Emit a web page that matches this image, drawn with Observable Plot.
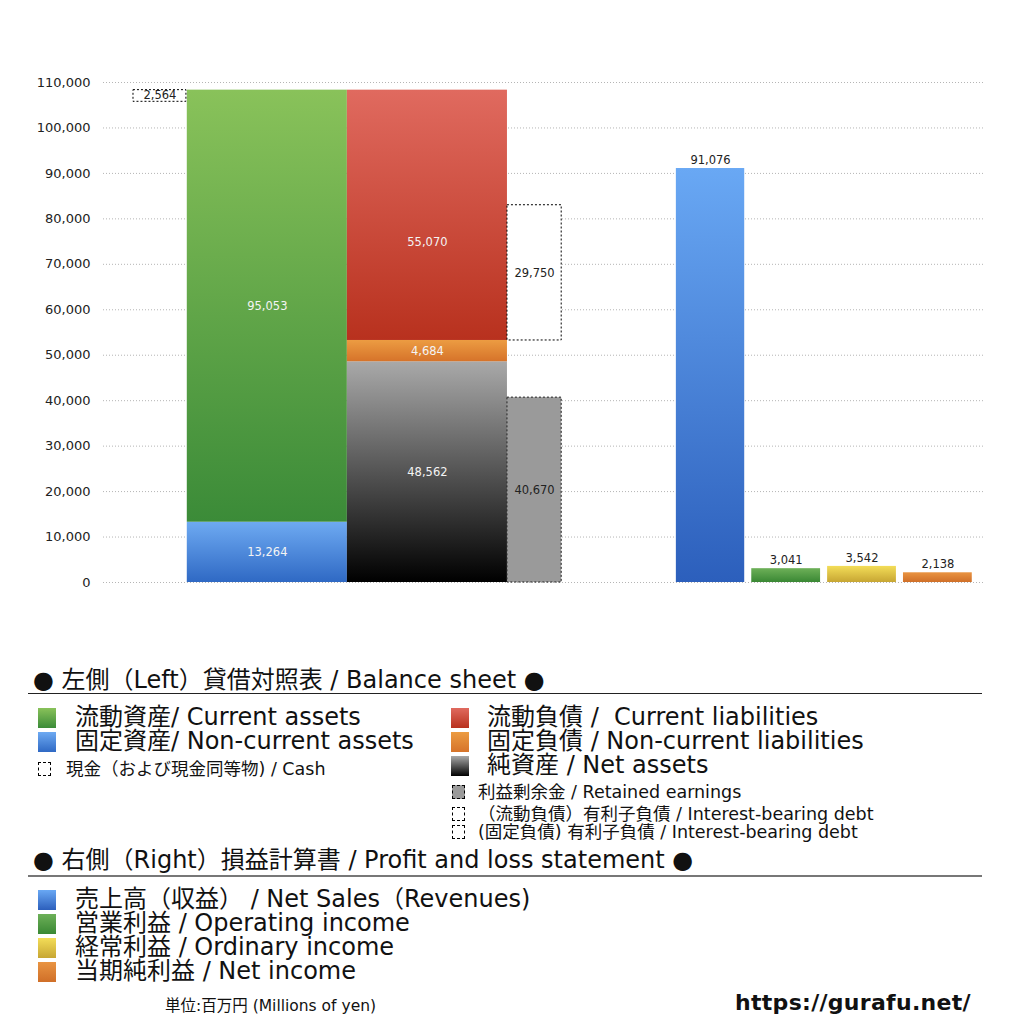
<!DOCTYPE html>
<html>
<head>
<meta charset="utf-8">
<script src="https://cdn.jsdelivr.net/npm/d3@7"></script>
<script src="https://cdn.jsdelivr.net/npm/@observablehq/plot@0.6"></script>
<style>
  html, body { margin: 0; padding: 0; background: #fff; }
  #wrap { position: relative; width: 1024px; height: 1024px; font-family: "DejaVu Sans", "Noto Sans CJK JP", sans-serif; color: #111; }
  #chart { position: absolute; left: 0; top: 0; }
  .abs { position: absolute; white-space: nowrap; }
  .big { font-size: 24px; line-height: 24px; }
  .small { font-size: 17.5px; line-height: 18px; }
  .sw { position: absolute; width: 18px; height: 20px; }
  .swd { position: absolute; width: 13px; height: 14px; border: 1px dashed #000; box-sizing: border-box; }
  .rule { position: absolute; left: 28px; width: 954px; }
</style>
</head>
<body>
<div id="wrap">
  <div id="chart"></div>
</div>
<script>
// ---------------- DATA ----------------
const yTicks = [0, 10000, 20000, 30000, 40000, 50000, 60000, 70000, 80000, 90000, 100000, 110000];

// Left: balance sheet
const assetCategories = ["固定資産", "流動資産"];          // bottom -> top
const assetValues = [13264, 95053];
const liabilityCategories = ["純資産", "固定負債", "流動負債"]; // bottom -> top
const liabilityValues = [48562, 4684, 55070];
const cashValue = 2564;
const interestDebtCurrentValue = 29750;
const retainedEarningsValue = 40670;

// Right: profit & loss
const plCategories = ["売上高", "営業利益", "経常利益", "当期純利益"];
const plValues = [91076, 3041, 3542, 2138];

// ---------------- LAYOUT / STYLE ----------------
// x slots on a 0..100 linear scale
const slot = {
  cash: [3.4, 9.4],
  assets: [9.5, 27.65],
  liab: [27.65, 45.8],
  debt: [45.8, 51.95],
  pl: [[64.95, 72.7], [73.5, 81.3], [82.1, 89.9], [90.7, 98.5]]
};
const grad = {
  "固定資産": ["#6eaaf2", "#2f69c4"],
  "流動資産": ["#89c25a", "#3b8b38"],
  "純資産": ["#a9a9a9", "#000000"],
  "固定負債": ["#ec9c42", "#d6732a"],
  "流動負債": ["#e06a5f", "#b8311e"],
  "売上高": ["#69a8f4", "#2c5fbc"],
  "営業利益": ["#6db058", "#3a8834"],
  "経常利益": ["#f3dd58", "#c7a633"],
  "当期純利益": ["#e99442", "#d06f28"]
};
const gid = (k) => "g" + Object.keys(grad).indexOf(k);

// ---------------- BUILD ROWS ----------------
function stackRows(cats, vals, xr) {
  const cum = d3.cumsum(vals);
  return cats.map((c, i) => ({cat: c, value: vals[i], x1: xr[0], x2: xr[1], y1: cum[i] - vals[i], y2: cum[i]}));
}
const assetRows = stackRows(assetCategories, assetValues, slot.assets);
const liabRows = stackRows(liabilityCategories, liabilityValues, slot.liab);
const totalAssets = d3.sum(assetValues);
const cashRow = [{value: cashValue, x1: slot.cash[0], x2: slot.cash[1], y1: totalAssets - cashValue, y2: totalAssets}];
const debtBase = liabilityValues[0] + liabilityValues[1];
const debtRow = [{value: interestDebtCurrentValue, x1: slot.debt[0], x2: slot.debt[1], y1: debtBase, y2: debtBase + interestDebtCurrentValue}];
const retainedRow = [{value: retainedEarningsValue, x1: slot.debt[0], x2: slot.debt[1], y1: 0, y2: retainedEarningsValue}];
const plRows = plCategories.map((c, i) => ({cat: c, value: plValues[i], x1: slot.pl[i][0], x2: slot.pl[i][1], y1: 0, y2: plValues[i]}));

const fmt = d3.format(",");
const fontFamily = '"DejaVu Sans", "Noto Sans CJK JP", sans-serif';

const defs = () => {
  const d = d3.create("svg:defs");
  for (const [k, [c0, c1]] of Object.entries(grad)) {
    const lg = d.append("linearGradient").attr("id", gid(k)).attr("x1", 0).attr("y1", 0).attr("x2", 0).attr("y2", 1);
    lg.append("stop").attr("offset", "0%").attr("stop-color", c0);
    lg.append("stop").attr("offset", "100%").attr("stop-color", c1);
  }
  return d.node();
};

const mid = (d) => (d.y1 + d.y2) / 2;
const xm = (d) => (d.x1 + d.x2) / 2;
const lab = 11.5;

const chart = Plot.plot({
  width: 1024,
  height: 610,
  marginTop: 82,
  marginBottom: 28,
  marginLeft: 103,
  marginRight: 39,
  style: {fontFamily, fontSize: "12px", color: "#222", background: "transparent"},
  x: {type: "linear", domain: [0, 100], axis: null},
  y: {domain: [0, 110000], axis: null},
  marks: [
    defs,
    Plot.ruleY(yTicks, {stroke: "#b5b5b5", strokeDasharray: "1,2", strokeWidth: 1}),
    Plot.axisY({ticks: yTicks, tickFormat: fmt, tickSize: 0, tickPadding: 13, fontSize: 13, label: null}),
    // balance sheet
    Plot.rect(assetRows, {x1: "x1", x2: "x2", y1: "y1", y2: "y2", fill: (d) => `url(#${gid(d.cat)})`}),
    Plot.rect(liabRows, {x1: "x1", x2: "x2", y1: "y1", y2: "y2", fill: (d) => `url(#${gid(d.cat)})`}),
    Plot.rect(cashRow, {x1: "x1", x2: "x2", y1: "y1", y2: "y2", fill: "white", stroke: "black", strokeDasharray: "2,2", strokeWidth: 1}),
    Plot.rect(debtRow, {x1: "x1", x2: "x2", y1: "y1", y2: "y2", fill: "white", stroke: "black", strokeDasharray: "2,2", strokeWidth: 1}),
    Plot.rect(retainedRow, {x1: "x1", x2: "x2", y1: "y1", y2: "y2", fill: "#9a9a9a", stroke: "#222", strokeDasharray: "2,2", strokeWidth: 1}),
    // P&L
    Plot.rect(plRows, {x1: "x1", x2: "x2", y1: "y1", y2: "y2", fill: (d) => `url(#${gid(d.cat)})`}),
    // labels
    Plot.text(assetRows, {x: xm, y: mid, text: (d) => fmt(d.value), fill: "#f4f4f4", fontSize: lab}),
    Plot.text(liabRows.filter((d) => d.cat !== "流動負債"), {x: xm, y: mid, text: (d) => fmt(d.value), fill: "#f4f4f4", fontSize: lab}),
    Plot.text(liabRows.filter((d) => d.cat === "流動負債"), {x: xm, y: mid, dy: 27, text: (d) => fmt(d.value), fill: "#f4f4f4", fontSize: lab}),
    Plot.text(cashRow, {x: xm, y: mid, dy: -1, text: (d) => fmt(d.value), fill: "#222", fontSize: lab}),
    Plot.text(debtRow, {x: xm, y: mid, text: (d) => fmt(d.value), fill: "#222", fontSize: lab}),
    Plot.text(retainedRow, {x: xm, y: mid, text: (d) => fmt(d.value), fill: "#222", fontSize: lab}),
    Plot.text(plRows, {x: xm, y: "y2", dy: -8, text: (d) => fmt(d.value), fill: "#222", fontSize: lab})
  ]
});
document.getElementById("chart").appendChild(chart);

// ---------------- LEGEND (HTML) ----------------
const wrap = document.getElementById("wrap");
function add(html) { wrap.insertAdjacentHTML("beforeend", html); }
const css = (k) => `linear-gradient(to bottom, ${grad[k][0]}, ${grad[k][1]})`;

add(`<div class="abs big" style="left:33px; top:668px;">● 左側（Left）貸借対照表 / Balance sheet ●</div>`);
add(`<div class="rule" style="top:693px; border-top:1px solid #222;"></div>`);

const leftItems = [["流動資産", "流動資産/ Current assets", 705], ["固定資産", "固定資産/ Non-current assets", 729]];
for (const [k, t, top] of leftItems) {
  add(`<div class="sw" style="left:38px; top:${top + 3}px; background:${css(k)}"></div>`);
  add(`<div class="abs big" style="left:75px; top:${top}px;">${t}</div>`);
}
add(`<div class="swd" style="left:38px; top:762px;"></div>`);
add(`<div class="abs small" style="left:66px; top:760px;">現金（および現金同等物) / Cash</div>`);

const rightItems = [["流動負債", "流動負債 /&nbsp; Current liabilities", 705], ["固定負債", "固定負債 / Non-current liabilities", 729], ["純資産", "純資産 / Net assets", 753]];
for (const [k, t, top] of rightItems) {
  add(`<div class="sw" style="left:451px; top:${top + 3}px; background:${css(k)}"></div>`);
  add(`<div class="abs big" style="left:487px; top:${top}px;">${t}</div>`);
}
add(`<div class="swd" style="left:452px; top:785px; background:#9a9a9a;"></div>`);
add(`<div class="abs small" style="left:478px; top:783px;">利益剰余金 / Retained earnings</div>`);
add(`<div class="swd" style="left:452px; top:807px;"></div>`);
add(`<div class="abs small" style="left:478px; top:805px;">（流動負債）有利子負債 / Interest-bearing debt</div>`);
add(`<div class="swd" style="left:452px; top:825px;"></div>`);
add(`<div class="abs small" style="left:478px; top:823px;">(固定負債) 有利子負債 / Interest-bearing debt</div>`);

add(`<div class="abs big" style="left:33px; top:848px;">● 右側（Right）損益計算書 / Profit and loss statement ●</div>`);
add(`<div class="rule" style="top:875px; border-top:2px solid #777;"></div>`);

const plLegend = [["売上高", "売上高（収益） / Net Sales（Revenues)", 887], ["営業利益", "営業利益 / Operating income", 911], ["経常利益", "経常利益 / Ordinary income", 935], ["当期純利益", "当期純利益 / Net income", 959]];
for (const [k, t, top] of plLegend) {
  add(`<div class="sw" style="left:38px; top:${top + 3}px; background:${css(k)}"></div>`);
  add(`<div class="abs big" style="left:75px; top:${top}px;">${t}</div>`);
}
add(`<div class="abs" style="left:165px; top:997px; font-size:15.5px; line-height:18px;">単位:百万円 (Millions of yen)</div>`);
add(`<div class="abs" style="left:735px; top:989px; font-size:22px; line-height:28px; font-weight:bold; font-family:'DejaVu Sans', sans-serif; letter-spacing:0.3px;">https://gurafu.net/</div>`);
</script>
</body>
</html>
